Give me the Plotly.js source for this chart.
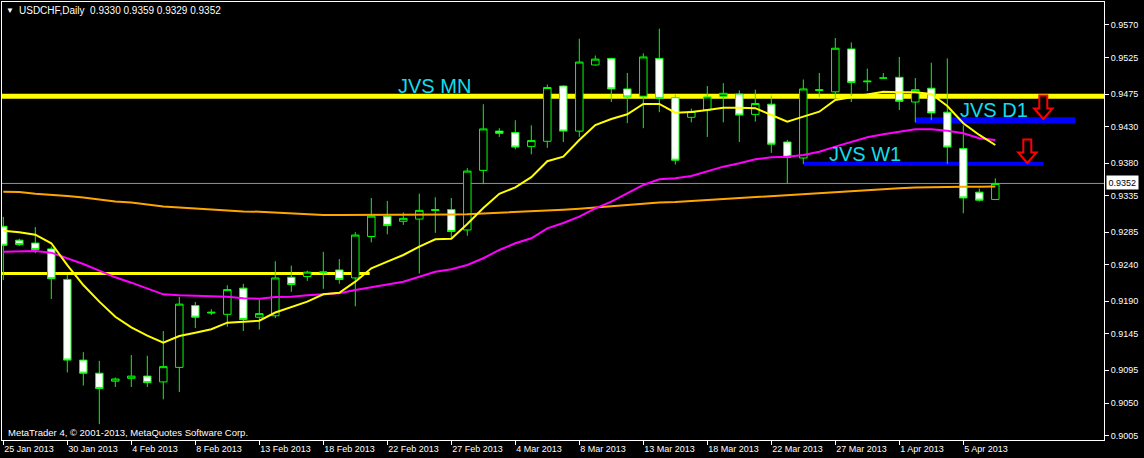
<!DOCTYPE html>
<html><head><meta charset="utf-8">
<script src="https://cdn.plot.ly/plotly-3.0.1.min.js"></script>
<style>html,body{margin:0;padding:0;background:#000;}#chart{width:1144px;height:458px;}</style>
</head><body><div id="chart"></div>
<script>
// ---- data ----
const symbol = "USDCHF";
const period = "Daily";
const dates = ["25 Jan 2013","27 Jan 2013","28 Jan 2013","29 Jan 2013","30 Jan 2013","31 Jan 2013","1 Feb 2013","3 Feb 2013","4 Feb 2013","5 Feb 2013",
"6 Feb 2013","7 Feb 2013","8 Feb 2013","10 Feb 2013","11 Feb 2013","12 Feb 2013","13 Feb 2013","14 Feb 2013","15 Feb 2013","17 Feb 2013",
"18 Feb 2013","19 Feb 2013","20 Feb 2013","21 Feb 2013","22 Feb 2013","24 Feb 2013","25 Feb 2013","26 Feb 2013","27 Feb 2013","28 Feb 2013",
"1 Mar 2013","3 Mar 2013","4 Mar 2013","5 Mar 2013","6 Mar 2013","7 Mar 2013","8 Mar 2013","10 Mar 2013","11 Mar 2013","12 Mar 2013",
"13 Mar 2013","14 Mar 2013","15 Mar 2013","17 Mar 2013","18 Mar 2013","19 Mar 2013","20 Mar 2013","21 Mar 2013","22 Mar 2013","24 Mar 2013",
"25 Mar 2013","26 Mar 2013","27 Mar 2013","28 Mar 2013","29 Mar 2013","31 Mar 2013","1 Apr 2013","2 Apr 2013","3 Apr 2013","4 Apr 2013",
"5 Apr 2013","7 Apr 2013","8 Apr 2013"];
const open = [0.9293,0.9274,0.9270,0.9262,0.9220,0.9109,0.9091,0.9080,0.9084,0.9087,
0.9079,0.9099,0.9184,0.9175,0.9172,0.9208,0.9168,0.9170,0.9223,0.9224,
0.9230,0.9233,0.9222,0.9279,0.9307,0.9300,0.9303,0.9316,0.9316,0.9288,
0.9370,0.9424,0.9422,0.9403,0.9410,0.9486,0.9424,0.9515,0.9524,0.9482,
0.9472,0.9524,0.9470,0.9443,0.9453,0.9472,0.9475,0.9447,0.9461,0.9409,
0.9387,0.9481,0.9478,0.9537,0.9493,0.9497,0.9498,0.9464,0.9483,0.9450,
0.9400,0.9340,0.9330];
const high = [0.9306,0.9276,0.9292,0.9265,0.9226,0.9120,0.9108,0.9085,0.9116,0.9115,
0.9149,0.9196,0.9189,0.9179,0.9212,0.9214,0.9192,0.9245,0.9239,0.9232,
0.9258,0.9248,0.9285,0.9332,0.9328,0.9312,0.9338,0.9333,0.9332,0.9373,
0.9461,0.9428,0.9439,0.9432,0.9488,0.9487,0.9551,0.9528,0.9525,0.9504,
0.9531,0.9565,0.9474,0.9455,0.9486,0.9490,0.9480,0.9481,0.9473,0.9412,
0.9495,0.9504,0.9552,0.9546,0.9510,0.9504,0.9526,0.9497,0.9518,0.9524,
0.9432,0.9345,0.9359];
const low = [0.9219,0.9266,0.9256,0.9193,0.9092,0.9074,0.9021,0.9072,0.9072,0.9072,
0.9055,0.9065,0.9153,0.9171,0.9155,0.9149,0.9151,0.9167,0.9203,0.9218,
0.9207,0.9214,0.9183,0.9271,0.9282,0.9295,0.9228,0.9284,0.9277,0.9280,
0.9351,0.9416,0.9399,0.9392,0.9401,0.9409,0.9416,0.9514,0.9464,0.9435,
0.9428,0.9450,0.9378,0.9436,0.9416,0.9436,0.9409,0.9437,0.9394,0.9352,
0.9379,0.9471,0.9467,0.9464,0.9479,0.9496,0.9453,0.9436,0.9439,0.9379,
0.9311,0.9327,0.9329];
const close = [0.9267,0.9268,0.9261,0.9221,0.9109,0.9091,0.9070,0.9083,0.9087,0.9078,
0.9100,0.9186,0.9168,0.9174,0.9206,0.9165,0.9173,0.9222,0.9213,0.9230,
0.9230,0.9220,0.9281,0.9307,0.9294,0.9304,0.9315,0.9315,0.9286,0.9369,
0.9427,0.9421,0.9402,0.9411,0.9484,0.9424,0.9519,0.9523,0.9482,0.9471,
0.9526,0.9469,0.9384,0.9451,0.9471,0.9476,0.9446,0.9462,0.9406,0.9388,
0.9482,0.9480,0.9538,0.9491,0.9492,0.9497,0.9465,0.9481,0.9449,0.9402,
0.9332,0.9329,0.9352];
const maFast = [0.92870,0.92848,0.92815,0.92697,0.92398,0.92123,0.91894,0.91687,0.91541,0.91426,
0.91330,0.91422,0.91467,0.91514,0.91605,0.91618,0.91632,0.91745,0.91817,0.91894,
0.91995,0.92017,0.92169,0.92353,0.92444,0.92536,0.92650,0.92752,0.92760,0.92962,
0.93183,0.93378,0.93465,0.93606,0.93826,0.93888,0.94118,0.94324,0.94407,0.94472,
0.94613,0.94613,0.94494,0.94503,0.94531,0.94562,0.94562,0.94556,0.94462,0.94370,
0.94439,0.94507,0.94668,0.94705,0.94751,0.94783,0.94774,0.94774,0.94751,0.94586,
0.94348,0.94187,0.94049];
const maMid = [0.92581,0.92581,0.92591,0.92568,0.92491,0.92412,0.92320,0.92229,0.92155,0.92078,
0.91995,0.91982,0.91972,0.91962,0.91962,0.91940,0.91935,0.91958,0.91962,0.91982,
0.91999,0.92009,0.92055,0.92092,0.92123,0.92169,0.92237,0.92306,0.92339,0.92398,
0.92491,0.92605,0.92697,0.92766,0.92903,0.92976,0.93063,0.93178,0.93269,0.93385,
0.93499,0.93577,0.93591,0.93623,0.93682,0.93751,0.93798,0.93853,0.93880,0.93888,
0.93912,0.93957,0.94026,0.94095,0.94155,0.94196,0.94232,0.94265,0.94265,0.94246,
0.94210,0.94141,0.94118];
const maSlow = [0.93407,0.93403,0.93379,0.93368,0.93348,0.93327,0.93300,0.93272,0.93258,0.93231,
0.93203,0.93189,0.93176,0.93162,0.93148,0.93134,0.93132,0.93118,0.93110,0.93100,
0.93086,0.93086,0.93086,0.93086,0.93089,0.93089,0.93090,0.93090,0.93093,0.93097,
0.93106,0.93118,0.93128,0.93137,0.93145,0.93159,0.93173,0.93189,0.93210,0.93228,
0.93247,0.93258,0.93265,0.93279,0.93288,0.93300,0.93316,0.93330,0.93344,0.93361,
0.93375,0.93389,0.93404,0.93419,0.93430,0.93440,0.93454,0.93465,0.93471,0.93476,
0.93476,0.93476,0.93478];
const yTickLabels = ["0.9570","0.9525","0.9475","0.9430","0.9380","0.9335","0.9285","0.9240","0.9190","0.9145","0.9095","0.9050","0.9005"];
const levelNames = ["JVS MN","JVS D1","JVS W1"];
const levelPrices = [0.9472, 0.9439, 0.9379];
const oldLevel = 0.9228;
const arrowPrices = [0.94407, 0.93802];
const credit = "MetaTrader 4, \u00a9 2001-2013, MetaQuotes Software Corp.";

// ---- layout geometry ----
const L = 2, R = 1104, T = 2, B = 440;
const barPx = 16, firstPx = 3.3;
const xr = [(L - firstPx) / barPx, (R - firstPx) / barPx];
const yr = [0.89991, 0.96016];
const idx = dates.map((d, i) => i);
const last = close.length - 1;
const FONT = "Liberation Sans, Arial, sans-serif";

function px2x(px) { return (px - L) / (R - L); }
function py2y(py) { return 1 - (py - T) / (B - T); }
function dataPx(i, p) {
  return [L + (i - xr[0]) / (xr[1] - xr[0]) * (R - L), T + (yr[1] - p) / (yr[1] - yr[0]) * (B - T)];
}
function arrowPath(i, p) {
  const [tx, ty] = dataPx(i, p);
  const pts = [[tx-4, ty-23.5],[tx+4, ty-23.5],[tx+4, ty-10.5],[tx+9.2, ty-10.5],[tx, ty],[tx-9.2, ty-10.5],[tx-4, ty-10.5]];
  return 'M' + pts.map(q => px2x(q[0]).toFixed(5) + ',' + py2y(q[1]).toFixed(5)).join('L') + 'Z';
}

const tickIdx = idx.filter(i => i % 4 === 0);

const traces = [
  {type:'candlestick', x: idx, open: open, high: high, low: low, close: close,
   increasing:{line:{color:'#00ff00', width:1}, fillcolor:'#000000'},
   decreasing:{line:{color:'#00ff00', width:1}, fillcolor:'#ffffff'},
   whiskerwidth: 0, hoverinfo:'skip', showlegend:false},
  {type:'scatter', mode:'lines', x: idx, y: maSlow, line:{color:'#ffa500', width:2}, hoverinfo:'skip', showlegend:false},
  {type:'scatter', mode:'lines', x: idx, y: maMid, line:{color:'#ff00ff', width:2}, hoverinfo:'skip', showlegend:false},
  {type:'scatter', mode:'lines', x: idx, y: maFast, line:{color:'#ffff00', width:2}, hoverinfo:'skip', showlegend:false}
];

const shapes = [
  {type:'line', xref:'x', yref:'y', x0: xr[0]-1, x1: 22.9, y0: oldLevel, y1: oldLevel, line:{color:'#ffff00', width:3}, layer:'below'},
  {type:'line', xref:'paper', yref:'y', x0: 0, x1: 1, y0: levelPrices[0], y1: levelPrices[0], line:{color:'#ffff00', width:5}, layer:'below'},
  {type:'line', xref:'x', yref:'y', x0: 57, x1: 67, y0: levelPrices[1], y1: levelPrices[1], line:{color:'#0000ff', width:6}, layer:'below'},
  {type:'line', xref:'x', yref:'y', x0: 50, x1: 65, y0: levelPrices[2], y1: levelPrices[2], line:{color:'#0000ff', width:4}, layer:'below'},
  {type:'line', xref:'paper', yref:'y', x0: 0, x1: 1, y0: close[last], y1: close[last], line:{color:'#8494a4', width:1}, layer:'below'},
  {type:'path', xref:'paper', yref:'paper', path: arrowPath(65, arrowPrices[0]), line:{color:'#ff0000', width:2}, fillcolor:'#000000', layer:'above'},
  {type:'path', xref:'paper', yref:'paper', path: arrowPath(64, arrowPrices[1]), line:{color:'#ff0000', width:2}, fillcolor:'#000000', layer:'above'}
];

const ann = [];
function txt(text, px, py, size, color, xanchor, extra) {
  ann.push(Object.assign({text: text, xref:'paper', yref:'paper', x: px2x(px), y: py2y(py), xanchor: xanchor || 'left', yanchor:'middle',
    showarrow:false, font:{family: FONT, size: size, color: color}, borderpad: 0}, extra || {}));
}
txt('\u25BC', 5, 10.5, 8, '#ffffff');
txt(symbol + ',' + period + '\u00a0 ' + [open[last], high[last], low[last], close[last]].map(v => v.toFixed(4)).join(' '), 18, 11, 10, '#ffffff');
txt(credit, 7, 432, 9.5, '#ffffff');
txt(levelNames[0], 396.5, 85.5, 20, '#12dcee');
txt(levelNames[1], 958.5, 109.5, 20, '#12dcee');
txt(levelNames[2], 827.5, 154, 20, '#12dcee');
txt(close[last].toFixed(4), 1106, 183, 9, '#000000', 'left', {bgcolor:'#ffffff', borderpad: 1.5});

const layout = {
  width: 1144, height: 458,
  margin: {l: L, r: 1144 - R, t: T, b: 458 - B, pad: 0},
  paper_bgcolor: '#000000', plot_bgcolor: '#000000',
  showlegend: false, boxgap: 0.33,
  xaxis: {range: xr, showgrid:false, zeroline:false, showline:true, linecolor:'#ffffff', linewidth:1, mirror:true,
    ticks:'outside', ticklen:4, tickcolor:'#ffffff', tickwidth:1,
    tickvals: tickIdx, ticktext: tickIdx.map(i => dates[i]), ticklabelposition:'outside right',
    tickfont:{family: FONT, size:9, color:'#ffffff'}, rangeslider:{visible:false}, fixedrange:true},
  yaxis: {range: yr, side:'right', showgrid:false, zeroline:false, showline:true, linecolor:'#ffffff', linewidth:1, mirror:true,
    ticks:'outside', ticklen:4, tickcolor:'#ffffff', tickwidth:1,
    tickvals: yTickLabels.map(Number), ticktext: yTickLabels,
    tickfont:{family: FONT, size:9, color:'#ffffff'}, fixedrange:true},
  shapes: shapes, annotations: ann
};
Plotly.newPlot('chart', traces, layout, {displayModeBar:false, staticPlot:true});
</script></body></html>
